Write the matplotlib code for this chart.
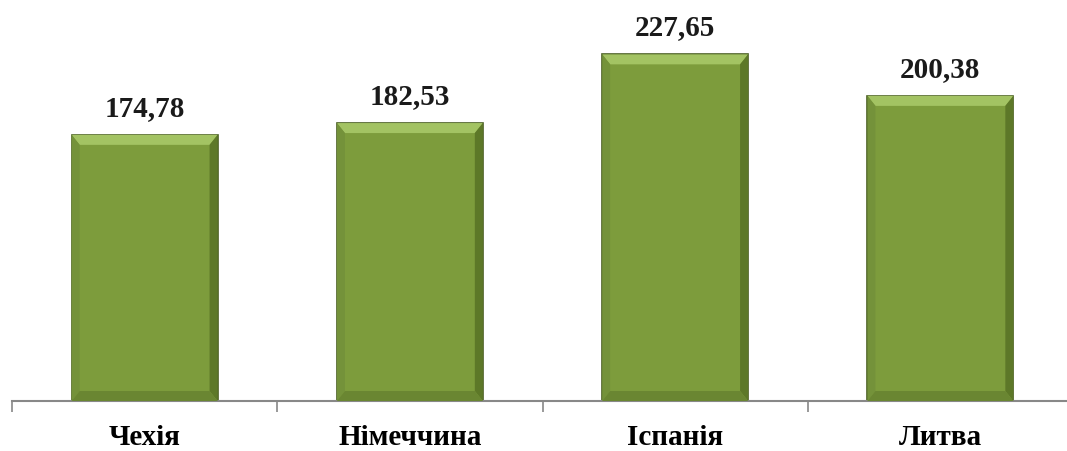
import matplotlib
matplotlib.use("Agg")
import matplotlib.pyplot as plt
from matplotlib.patches import Polygon

categories = ["Чехія", "Німеччина", "Іспанія", "Литва"]
values = [174.78, 182.53, 227.65, 200.38]
value_labels = ["174,78", "182,53", "227,65", "200,38"]

plt.rcParams["font.family"] = ["Liberation Serif", "DejaVu Serif"]

fig = plt.figure(figsize=(10.67, 4.52), dpi=100)
ax = fig.add_axes([12 / 1067, 50 / 452, 1061 / 1067, 1 - 50 / 452])

base = "#7d9c3c"
bars = ax.bar(range(len(values)), values, width=0.55, color=base,
              edgecolor="#4a5f22", linewidth=1.2, zorder=2)

ax.set_xlim(-0.5, len(values) - 0.5)
ax.set_ylim(0, 264)

# bevel effect, depth in pixels converted to data units
fig.canvas.draw()
px_x = (ax.get_xlim()[1] - ax.get_xlim()[0]) / ax.get_window_extent().width
px_y = (ax.get_ylim()[1] - ax.get_ylim()[0]) / ax.get_window_extent().height
dx, dy = 8 * px_x, 10 * px_y
for b in bars:
    x0, w, h = b.get_x(), b.get_width(), b.get_height()
    x1 = x0 + w
    top = Polygon([[x0, h], [x1, h], [x1 - dx, h - dy], [x0 + dx, h - dy]],
                  closed=True, color="#a3c363", zorder=3, lw=0)
    left = Polygon([[x0, h], [x0 + dx, h - dy], [x0 + dx, dy], [x0, 0]],
                   closed=True, color="#74923a", zorder=3, lw=0)
    right = Polygon([[x1, h], [x1 - dx, h - dy], [x1 - dx, dy], [x1, 0]],
                    closed=True, color="#5d7828", zorder=3, lw=0)
    bottom = Polygon([[x0, 0], [x1, 0], [x1 - dx, dy], [x0 + dx, dy]],
                     closed=True, color="#6a8632", zorder=3, lw=0)
    for p in (top, left, right, bottom):
        ax.add_patch(p)

for i, (v, lab) in enumerate(zip(values, value_labels)):
    ax.text(i, v + 14 * px_y, lab, ha="center", va="bottom",
            fontsize=21, fontweight="bold", color="#1a1a1a")

for s in ("top", "right", "left"):
    ax.spines[s].set_visible(False)
ax.spines["bottom"].set_color("#888888")
ax.spines["bottom"].set_linewidth(1.5)
ax.set_yticks([])
ax.set_xticks([-0.5, 0.5, 1.5, 2.5, 3.5], minor=False)
ax.set_xticklabels([])
ax.tick_params(axis="x", length=8, color="#888888", width=1.2)
ax.set_xticks(range(len(categories)), minor=True)
ax.set_xticklabels(categories, minor=True, fontsize=21, fontweight="bold")
ax.tick_params(axis="x", which="minor", length=0, pad=16)

fig.savefig("out.png", dpi=100)
